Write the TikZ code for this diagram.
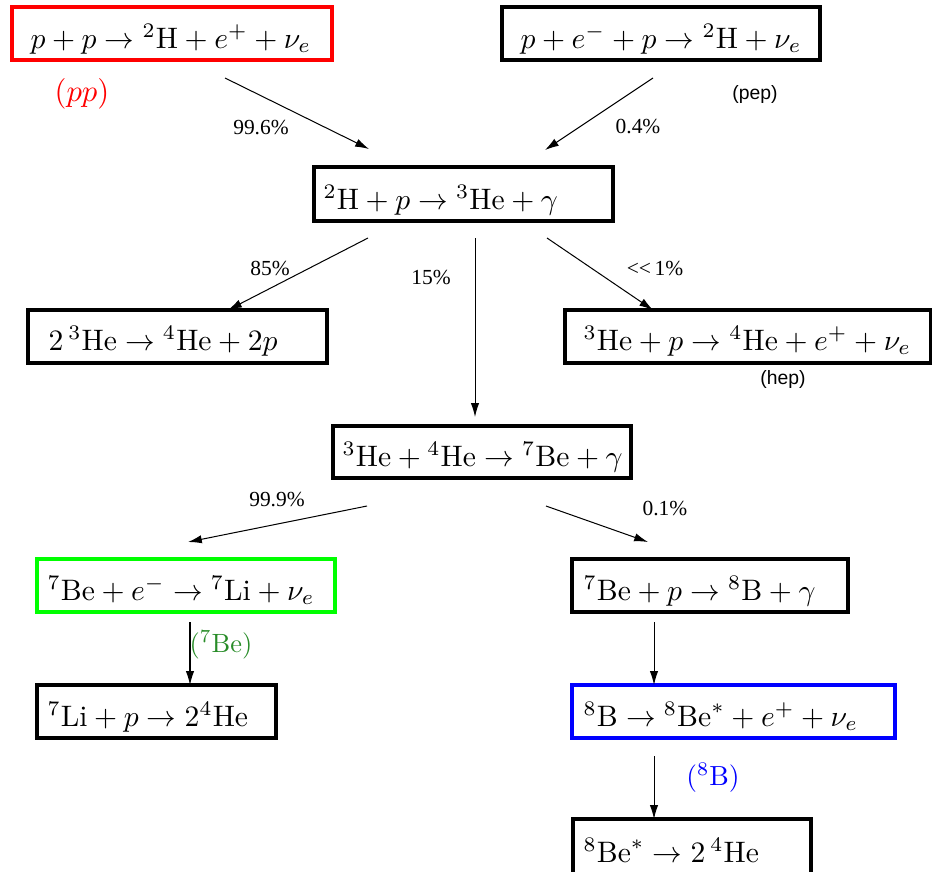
\documentclass[tikz,border=0pt]{standalone}
\usepackage{fontspec}
\newfontfamily\tms{Liberation Serif}
\newfontfamily\hlv{Liberation Sans}
\usetikzlibrary{fit,arrows.meta}
\definecolor{boxgreen}{RGB}{0,255,0}
\definecolor{lblgreen}{RGB}{40,140,40}
\begin{document}
\begin{tikzpicture}[x=0.326pt,y=-0.326pt,
  box/.style={draw=black,line width=1pt,inner sep=0pt,rectangle},
  eq/.style={anchor=base west,inner sep=0pt,scale=0.965},
  pct/.style={inner sep=0pt,font=\tms\fontsize{7}{8}\selectfont},
  tag/.style={inner sep=0pt,font=\hlv\fontsize{6.3}{7}\selectfont},
  arr/.style={line width=0.33pt,-{Latex[length=4.5pt,width=2.7pt]}}]
\useasboundingbox (0,0) rectangle (932,871);
% boxes
\node[box,draw=red,fit={(12,7) (332,60)}] (b1) {};
\node[box,fit={(502,7) (820,60)}] (b2) {};
\node[box,fit={(314,167) (613,221)}] (b3) {};
\node[box,fit={(28,310) (327,363)}] (b4) {};
\node[box,fit={(565,310) (931,363)}] (b5) {};
\node[box,fit={(333,426) (631,478)}] (b6) {};
\node[box,draw=boxgreen,fit={(37,559) (335,612)}] (b7) {};
\node[box,fit={(37,685) (276,738)}] (b8) {};
\node[box,fit={(572,559) (848,612)}] (b9) {};
\node[box,draw=blue,fit={(572,685) (895,738)}] (b10) {};
\node[box,fit={(573,819) (811,880)}] (b11) {};
% equations
\node[eq] (t1) at (30,48) {$p+p\rightarrow{}^2\mathrm{H}+e^++\nu_e$};
\node[eq] (t2) at (520,48) {$p+e^-+p\rightarrow{}^2\mathrm{H}+\nu_e$};
\node[eq] (t3) at (323,209) {${}^2\mathrm{H}+p\rightarrow{}^3\mathrm{He}+\gamma$};
\node[eq] (t4) at (48,350) {$2\,{}^3\mathrm{He}\rightarrow{}^4\mathrm{He}+2p$};
\node[eq] (t5) at (583,350) {${}^3\mathrm{He}+p\rightarrow{}^4\mathrm{He}+e^++\nu_e$};
\node[eq] (t6) at (342,466) {${}^3\mathrm{He}+{}^4\mathrm{He}\rightarrow{}^7\mathrm{Be}+\gamma$};
\node[eq] (t7) at (47,600) {${}^7\mathrm{Be}+e^-\rightarrow{}^7\mathrm{Li}+\nu_e$};
\node[eq] (t8) at (47,726) {${}^7\mathrm{Li}+p\rightarrow 2^4\mathrm{He}$};
\node[eq] (t9) at (583,600) {${}^7\mathrm{Be}+p\rightarrow{}^8\mathrm{B}+\gamma$};
\node[eq] (t10) at (583,726) {${}^8\mathrm{B}\rightarrow{}^8\mathrm{Be}^*+e^++\nu_e$};
\node[eq] (t11) at (583,862) {${}^8\mathrm{Be}^*\rightarrow 2\,{}^4\mathrm{He}$};
% side labels
\node[inner sep=0pt,text=red] (lpp) at (82,94) {$(pp)$};
\node[tag] (lpep) at (755,94) {(pep)};
\node[tag] (lhep) at (783,379) {(hep)};
\node[inner sep=0pt,text=lblgreen,scale=0.86] (lbe) at (221,645) {$({}^7\mathrm{Be})$};
\node[inner sep=0pt,text=blue,scale=0.9] (lb) at (713,778) {$({}^8\mathrm{B})$};
% percentages
\node[pct] (p1) at (261,128) {99.6\%};
\node[pct] (p2) at (638,127) {0.4\%};
\node[pct] (p3) at (270,268) {85\%};
\node[pct] (p4) at (431,277) {15\%};
\node[pct] (p5) at (655,268) {<<\,1\%};
\node[pct] (p6) at (277,500) {99.9\%};
\node[pct] (p7) at (665,509) {0.1\%};
% arrow ends
\coordinate (s1) at (225,78);  \coordinate (e1) at (369,149);
\coordinate (s2) at (653,78);  \coordinate (e2) at (545,150);
\coordinate (s3) at (368,238); \coordinate (e3) at (228,310);
\coordinate (s4) at (475,238); \coordinate (e4) at (475,417);
\coordinate (s5) at (547,238); \coordinate (e5) at (653,310);
\coordinate (s6) at (367,506); \coordinate (e6) at (188,542);
\coordinate (s7) at (546,506); \coordinate (e7) at (648,542);
\coordinate (s8) at (190,622); \coordinate (e8) at (190,685);
\coordinate (s9) at (654,622); \coordinate (e9) at (654,685);
\coordinate (s10) at (654,756); \coordinate (e10) at (654,819);
\foreach \i in {1,...,10} \draw[arr] (s\i) -- (e\i);
\end{tikzpicture}
\end{document}
